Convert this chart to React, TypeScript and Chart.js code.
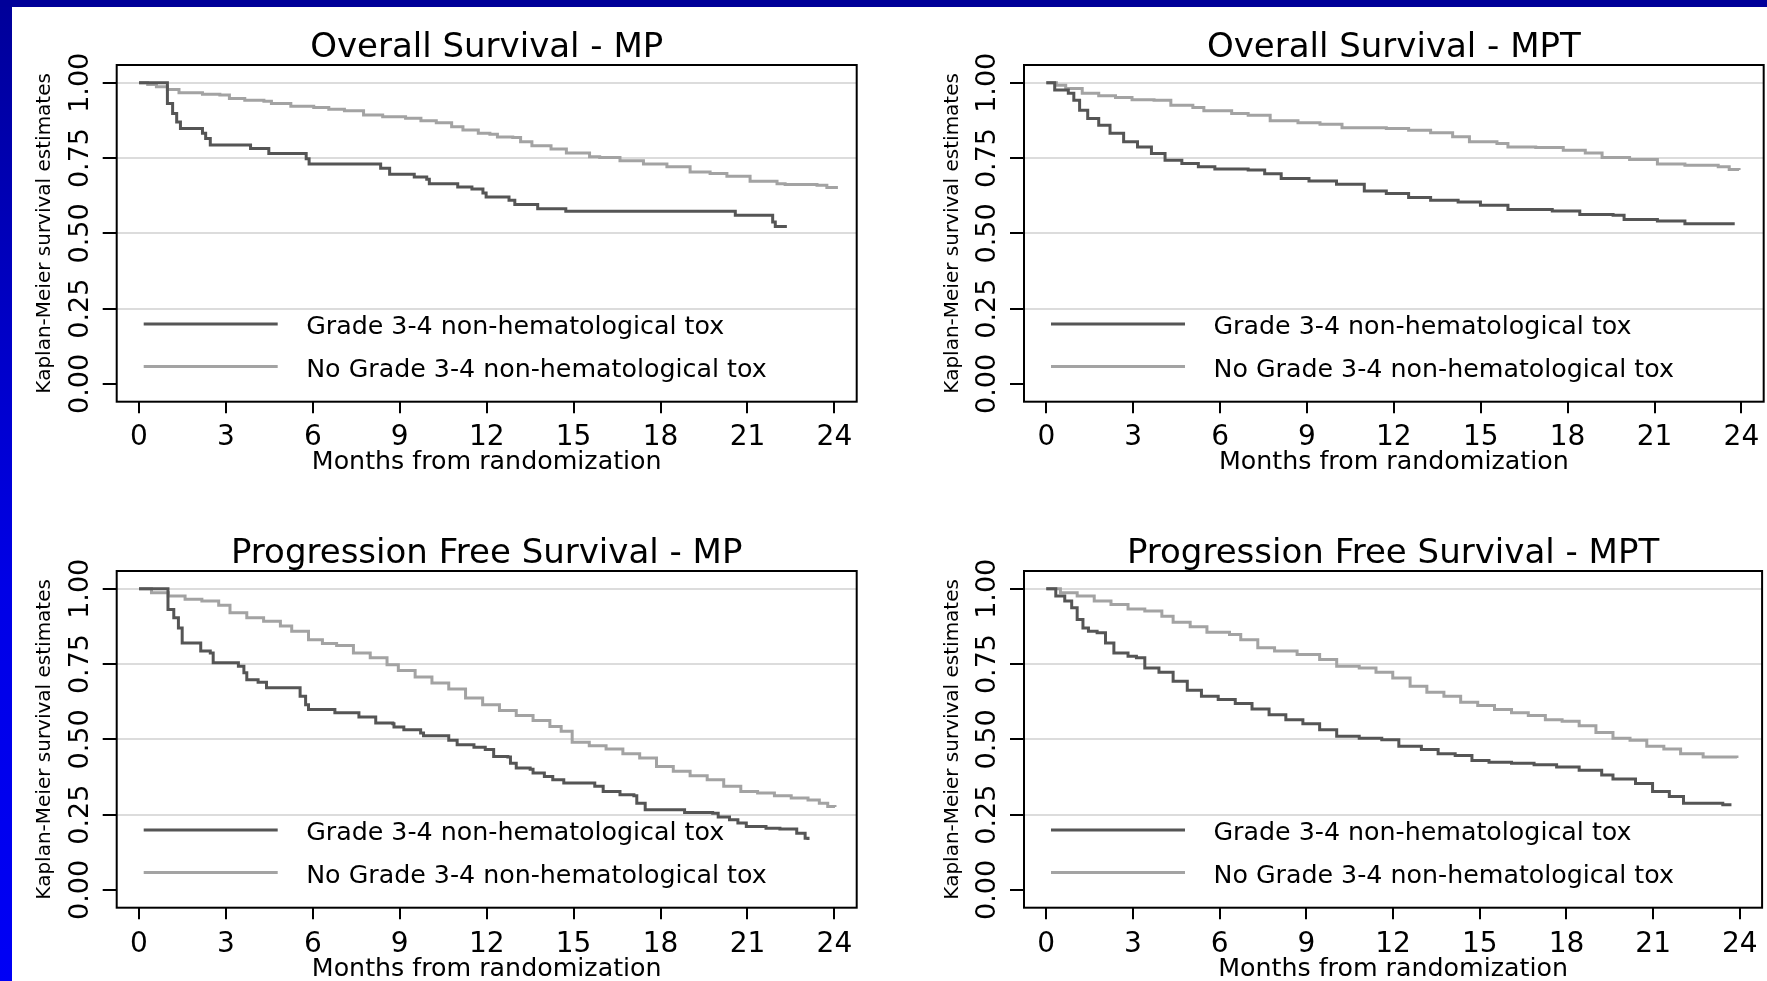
import React, { useEffect, useRef } from 'react';
import { Chart, registerables } from 'chart.js';

Chart.register(...registerables);

// ---------------- text / ticks ----------------
const panelTitles = [
  'Overall Survival - MP',
  'Overall Survival - MPT',
  'Progression Free Survival - MP',
  'Progression Free Survival - MPT',
];
const seriesLabels = ['Grade 3-4 non-hematological tox', 'No Grade 3-4 non-hematological tox'];
const xAxisTitle = 'Months from randomization';
const yAxisTitle = 'Kaplan-Meier survival estimates';
const xTickValues = [0, 3, 6, 9, 12, 15, 18, 21, 24];
const xTickLabels = ['0', '3', '6', '9', '12', '15', '18', '21', '24'];
const yTickValues = [0, 0.25, 0.5, 0.75, 1];
const yTickLabels = ['0.00', '0.25', '0.50', '0.75', '1.00'];

// ---------------- data (months, survival) ----------------
// Overall Survival - MP
const osMpToxT = [0, 0.98, 1.16, 1.3, 1.43, 2.19, 2.3, 2.46, 3.85, 4.48, 5.77, 5.87, 8.34, 8.65, 9.5, 9.93, 10.02, 11.0, 11.49, 11.87, 11.98, 12.77, 12.97, 13.76, 14.73, 20.58, 21.87, 21.96, 22.36];
const osMpToxS = [1, 0.931, 0.898, 0.87, 0.848, 0.832, 0.815, 0.793, 0.782, 0.765, 0.748, 0.73, 0.716, 0.696, 0.687, 0.68, 0.665, 0.654, 0.647, 0.634, 0.621, 0.61, 0.596, 0.582, 0.573, 0.56, 0.538, 0.523, 0.523];
const osMpNoToxT = [0, 0.3, 0.6, 0.98, 1.38, 2.19, 2.79, 3.12, 3.65, 4.31, 4.57, 5.24, 6.03, 6.55, 7.09, 7.75, 8.41, 9.2, 9.73, 10.26, 10.79, 11.18, 11.71, 12.11, 12.37, 12.9, 13.17, 13.56, 14.22, 14.75, 15.55, 15.9, 16.6, 17.41, 18.22, 19.02, 19.71, 20.29, 21.09, 22.02, 22.3, 23.4, 23.74, 24.07];
const osMpNoToxS = [1, 0.994, 0.987, 0.978, 0.967, 0.962, 0.959, 0.948, 0.942, 0.939, 0.931, 0.922, 0.918, 0.912, 0.907, 0.893, 0.887, 0.882, 0.874, 0.867, 0.854, 0.843, 0.832, 0.829, 0.82, 0.818, 0.804, 0.791, 0.78, 0.767, 0.754, 0.752, 0.741, 0.73, 0.721, 0.704, 0.699, 0.69, 0.673, 0.665, 0.662, 0.66, 0.652, 0.647];

// Overall Survival - MPT
const osMptToxT = [0, 0.29, 0.76, 0.95, 1.15, 1.43, 1.81, 2.2, 2.67, 3.15, 3.63, 4.1, 4.68, 5.25, 5.82, 6.97, 7.54, 8.11, 9.07, 10.02, 10.98, 11.74, 12.51, 13.27, 14.22, 14.99, 15.94, 17.47, 18.42, 19.57, 19.95, 21.1, 22.05, 23.77];
const osMptToxS = [1, 0.976, 0.965, 0.942, 0.909, 0.881, 0.859, 0.832, 0.804, 0.787, 0.765, 0.743, 0.732, 0.721, 0.714, 0.71, 0.698, 0.682, 0.674, 0.663, 0.641, 0.632, 0.619, 0.61, 0.604, 0.593, 0.579, 0.574, 0.563, 0.56, 0.546, 0.541, 0.532, 0.532];
const osMptNoToxT = [0, 0.35, 0.67, 1.24, 1.81, 2.39, 2.96, 3.72, 4.3, 5.06, 5.44, 6.4, 6.97, 7.73, 8.69, 9.45, 10.21, 11.74, 12.51, 13.27, 14.03, 14.61, 15.56, 15.94, 16.9, 17.85, 18.61, 19.19, 20.14, 21.1, 22.05, 23.2, 23.58, 23.92];
const osMptNoToxS = [1, 0.992, 0.981, 0.965, 0.957, 0.951, 0.944, 0.942, 0.925, 0.918, 0.907, 0.898, 0.892, 0.874, 0.867, 0.862, 0.851, 0.848, 0.842, 0.834, 0.821, 0.804, 0.798, 0.787, 0.785, 0.776, 0.767, 0.752, 0.745, 0.73, 0.726, 0.721, 0.712, 0.71];

// Progression Free Survival - MP
const pfsMpToxT = [0, 1.0, 1.2, 1.36, 1.49, 2.13, 2.46, 2.56, 3.43, 3.62, 3.72, 4.11, 4.4, 5.56, 5.75, 5.85, 6.76, 7.59, 8.17, 8.76, 8.8, 9.14, 9.72, 9.82, 10.69, 10.98, 11.56, 11.95, 12.24, 12.73, 12.82, 13.02, 13.5, 13.6, 13.99, 14.28, 14.66, 15.73, 16.02, 16.6, 17.08, 17.18, 17.47, 18.83, 19.8, 19.99, 20.38, 20.67, 20.96, 21.64, 22.12, 22.7, 22.99, 23.09];
const pfsMpToxS = [1, 0.931, 0.904, 0.87, 0.82, 0.793, 0.787, 0.754, 0.743, 0.721, 0.698, 0.69, 0.671, 0.643, 0.615, 0.599, 0.588, 0.574, 0.554, 0.552, 0.541, 0.532, 0.521, 0.512, 0.497, 0.482, 0.474, 0.466, 0.443, 0.441, 0.421, 0.405, 0.401, 0.388, 0.377, 0.366, 0.355, 0.344, 0.327, 0.316, 0.313, 0.288, 0.266, 0.257, 0.255, 0.242, 0.233, 0.222, 0.211, 0.205, 0.202, 0.188, 0.172, 0.166];
const pfsMpNoToxT = [0, 0.43, 1.01, 1.59, 2.17, 2.75, 3.14, 3.72, 4.3, 4.88, 5.27, 5.85, 6.33, 6.82, 7.4, 7.98, 8.56, 8.95, 9.53, 10.11, 10.69, 11.27, 11.86, 12.44, 13.02, 13.6, 14.18, 14.57, 14.95, 15.54, 16.12, 16.7, 17.28, 17.86, 18.44, 19.02, 19.61, 20.18, 20.77, 21.35, 21.93, 22.51, 23.09, 23.48, 23.77, 24.02];
const pfsMpNoToxS = [1, 0.987, 0.976, 0.965, 0.959, 0.945, 0.92, 0.904, 0.892, 0.876, 0.859, 0.831, 0.818, 0.812, 0.787, 0.771, 0.748, 0.729, 0.707, 0.687, 0.667, 0.637, 0.615, 0.596, 0.579, 0.563, 0.543, 0.527, 0.49, 0.479, 0.468, 0.452, 0.438, 0.41, 0.394, 0.379, 0.366, 0.344, 0.327, 0.322, 0.313, 0.305, 0.299, 0.288, 0.277, 0.275];

// Progression Free Survival - MPT
const pfsMptToxT = [0, 0.33, 0.64, 0.88, 1.07, 1.27, 1.46, 1.76, 2.05, 2.34, 2.83, 3.12, 3.41, 3.9, 4.39, 4.88, 5.37, 5.95, 6.54, 7.12, 7.71, 8.29, 8.88, 9.46, 10.05, 10.83, 11.61, 12.2, 12.98, 13.56, 14.15, 14.73, 15.32, 16.1, 16.88, 17.66, 18.44, 19.22, 19.61, 20.39, 20.98, 21.56, 22.05, 23.41, 23.71];
const pfsMptToxS = [1, 0.976, 0.959, 0.937, 0.898, 0.87, 0.859, 0.854, 0.82, 0.787, 0.776, 0.771, 0.737, 0.723, 0.693, 0.663, 0.643, 0.632, 0.619, 0.601, 0.582, 0.565, 0.552, 0.532, 0.51, 0.504, 0.499, 0.477, 0.466, 0.452, 0.446, 0.43, 0.424, 0.421, 0.416, 0.408, 0.397, 0.382, 0.368, 0.353, 0.327, 0.31, 0.288, 0.283, 0.283];
const pfsMptNoToxT = [0, 0.49, 1.07, 1.66, 2.24, 2.83, 3.41, 4.0, 4.39, 4.98, 5.56, 6.34, 6.73, 7.32, 7.9, 8.68, 9.46, 10.05, 10.83, 11.41, 11.99, 12.59, 13.17, 13.76, 14.34, 14.93, 15.51, 16.1, 16.68, 17.27, 17.85, 18.44, 19.02, 19.61, 20.2, 20.78, 21.37, 21.95, 22.73, 23.32, 23.9];
const pfsMptNoToxS = [1, 0.987, 0.976, 0.959, 0.948, 0.933, 0.926, 0.909, 0.889, 0.874, 0.856, 0.848, 0.831, 0.804, 0.793, 0.782, 0.765, 0.743, 0.737, 0.723, 0.704, 0.676, 0.656, 0.643, 0.623, 0.612, 0.599, 0.588, 0.579, 0.565, 0.56, 0.545, 0.523, 0.504, 0.497, 0.477, 0.468, 0.452, 0.441, 0.441, 0.438];

// ---------------- styles ----------------
const FONT = "'DejaVu Sans', 'Liberation Sans', Arial, sans-serif";
const darkColor = '#555555';
const lightColor = '#a3a3a3';
const gridColor = '#dcdcdc';
const X_MIN = -0.77;
const X_MAX = 24.77;
const Y_MIN = -0.059;
const Y_MAX = 1.059;

const TITLE_SIZE = 34;
const TITLE_LH = 0.9;
const XTICK_SIZE = 28;
const XTICK_LH = 1.2;
const XTITLE_SIZE = 25.3;
const XTITLE_LH = 0.9;
const YTICK_SIZE = 27;
const YTITLE_SIZE = 20;
const YTITLE_LH = 1.2;
const LEGEND_SIZE = 25.3;
const CURVE_WIDTH = 3;

type PanelSpec = {
  id: string;
  title: string;
  toxT: number[];
  toxS: number[];
  noToxT: number[];
  noToxS: number[];
  canvas: { left: number; top: number; width: number; height: number };
  yAxisW: number;
  padRight: number;
  titleCenter: number; // page y of title centre (canvas-relative computed)
  areaTop: number; // page y of plot frame top
  xAxisH: number;
  xTitleCenter: number;
  xTickCenter: number;
};

const panels: PanelSpec[] = [
  {
    id: 'os-mp', title: panelTitles[0], toxT: osMpToxT, toxS: osMpToxS, noToxT: osMpNoToxT, noToxS: osMpNoToxS,
    canvas: { left: 12, top: 7, width: 868, height: 483 },
    yAxisW: 104.7, padRight: 23.3, titleCenter: 48, areaTop: 65, xAxisH: 88.3, xTitleCenter: 60.5, xTickCenter: 36,
  },
  {
    id: 'os-mpt', title: panelTitles[1], toxT: osMptToxT, toxS: osMptToxS, noToxT: osMptNoToxT, noToxS: osMptNoToxS,
    canvas: { left: 880, top: 7, width: 887, height: 483 },
    yAxisW: 144, padRight: 3, titleCenter: 48, areaTop: 65, xAxisH: 88.3, xTitleCenter: 60.5, xTickCenter: 36,
  },
  {
    id: 'pfs-mp', title: panelTitles[2], toxT: pfsMpToxT, toxS: pfsMpToxS, noToxT: pfsMpNoToxT, noToxS: pfsMpNoToxS,
    canvas: { left: 12, top: 490, width: 868, height: 491 },
    yAxisW: 104.7, padRight: 23.3, titleCenter: 554.5, areaTop: 571, xAxisH: 73.3, xTitleCenter: 61.5, xTickCenter: 37.5,
  },
  {
    id: 'pfs-mpt', title: panelTitles[3], toxT: pfsMptToxT, toxS: pfsMptToxS, noToxT: pfsMptNoToxT, noToxS: pfsMptNoToxS,
    canvas: { left: 880, top: 490, width: 887, height: 491 },
    yAxisW: 144, padRight: 3, titleCenter: 554.5, areaTop: 571, xAxisH: 73.3, xTitleCenter: 61.5, xTickCenter: 37.5,
  },
];

const toPoints = (t: number[], s: number[]) => t.map((x, i) => ({ x, y: s[i] }));

const framePlugin = {
  id: 'frameBox',
  afterDraw(chart: any) {
    const { ctx, chartArea: a } = chart;
    ctx.save();
    ctx.strokeStyle = '#000';
    ctx.lineWidth = 2;
    ctx.strokeRect(a.left, a.top, a.right - a.left, a.bottom - a.top);
    ctx.restore();
  },
};

const insideLegendPlugin = {
  id: 'insideLegend',
  afterDatasetsDraw(chart: any) {
    const { ctx, chartArea: a } = chart;
    const rowOffsets = [262.5, 305];
    chart.data.datasets.forEach((ds: any, i: number) => {
      const y = a.top + rowOffsets[i];
      ctx.save();
      ctx.strokeStyle = ds.borderColor;
      ctx.lineWidth = CURVE_WIDTH;
      ctx.beginPath();
      ctx.moveTo(a.left + 27, y - 3.4);
      ctx.lineTo(a.left + 161, y - 3.4);
      ctx.stroke();
      ctx.fillStyle = '#000';
      ctx.font = `${LEGEND_SIZE}px ${FONT}`;
      ctx.textAlign = 'left';
      ctx.textBaseline = 'middle';
      ctx.fillText(ds.label, a.left + 189.5, y);
      ctx.restore();
    });
  },
};

function buildConfig(p: PanelSpec): any {
  const titleLH = TITLE_SIZE * TITLE_LH;
  const padTop = p.titleCenter - titleLH / 2 - p.canvas.top;
  const titlePadBottom = p.areaTop - p.canvas.top - padTop - titleLH;
  const xTitleLH = XTITLE_SIZE * XTITLE_LH;
  const xTickLH = XTICK_SIZE * XTICK_LH;
  const yTitleLH = YTITLE_SIZE * YTITLE_LH;
  const yTickHalf = (2.227 * YTICK_SIZE) / 2;
  return {
    type: 'line',
    data: {
      datasets: [
        {
          label: seriesLabels[0],
          data: toPoints(p.toxT, p.toxS),
          borderColor: darkColor,
          backgroundColor: darkColor,
          borderWidth: CURVE_WIDTH,
          stepped: 'before',
          pointRadius: 0,
          fill: false,
        },
        {
          label: seriesLabels[1],
          data: toPoints(p.noToxT, p.noToxS),
          borderColor: lightColor,
          backgroundColor: lightColor,
          borderWidth: CURVE_WIDTH,
          stepped: 'before',
          pointRadius: 0,
          fill: false,
        },
      ],
    },
    options: {
      responsive: false,
      maintainAspectRatio: false,
      animation: false,
      events: [],
      layout: { padding: { left: 0, right: p.padRight, top: padTop, bottom: 0 } },
      plugins: {
        legend: { display: false },
        tooltip: { enabled: false },
        title: {
          display: true,
          text: p.title,
          fullSize: false,
          color: '#000',
          font: { family: FONT, size: TITLE_SIZE, weight: 'normal', lineHeight: TITLE_LH },
          padding: { top: 0, bottom: titlePadBottom },
        },
      },
      scales: {
        x: {
          type: 'linear',
          position: 'bottom',
          min: X_MIN,
          max: X_MAX,
          afterBuildTicks: (s: any) => {
            s.ticks = xTickValues.map((v) => ({ value: v }));
          },
          afterFit: (s: any) => {
            s.height = p.xAxisH;
          },
          grid: {
            drawOnChartArea: false,
            drawTicks: true,
            tickLength: 11.5,
            tickColor: '#000',
            tickWidth: 2,
            color: '#000',
            lineWidth: 2,
          },
          border: { display: false },
          ticks: {
            color: '#000',
            font: { family: FONT, size: XTICK_SIZE, lineHeight: XTICK_LH },
            padding: p.xTickCenter - 11.5 - xTickLH / 2,
            minRotation: 0,
            maxRotation: 0,
            autoSkip: false,
            callback: (_v: any, i: number) => xTickLabels[i],
          },
          title: {
            display: true,
            text: xAxisTitle,
            color: '#000',
            font: { family: FONT, size: XTITLE_SIZE, lineHeight: XTITLE_LH },
            padding: { top: 0, bottom: p.xAxisH - p.xTitleCenter - xTitleLH / 2 },
          },
        },
        y: {
          type: 'linear',
          position: 'left',
          min: Y_MIN,
          max: Y_MAX,
          afterBuildTicks: (s: any) => {
            s.ticks = yTickValues.map((v) => ({ value: v }));
          },
          afterFit: (s: any) => {
            s.width = p.yAxisW;
          },
          grid: {
            drawTicks: true,
            tickLength: 14,
            tickColor: '#000',
            tickWidth: 2,
            lineWidth: 2,
            color: (c: any) => (c.tick && c.tick.value === 0 ? 'rgba(0,0,0,0)' : gridColor),
          },
          border: { display: false },
          ticks: {
            color: '#000',
            font: { family: FONT, size: YTICK_SIZE, lineHeight: 1.2 },
            padding: 36 - 14 - yTickHalf,
            minRotation: 90,
            maxRotation: 90,
            crossAlign: 'center',
            autoSkip: false,
            callback: (_v: any, i: number) => yTickLabels[i],
          },
          title: {
            display: true,
            text: yAxisTitle,
            color: '#000',
            font: { family: FONT, size: YTITLE_SIZE, lineHeight: YTITLE_LH },
            padding: { top: p.yAxisW - 71.5 - yTitleLH / 2, bottom: 0 },
          },
        },
      },
    },
    plugins: [framePlugin, insideLegendPlugin],
  };
}

function Panel({ spec }: { spec: PanelSpec }) {
  const ref = useRef<HTMLCanvasElement | null>(null);
  useEffect(() => {
    if (!ref.current) return;
    const chart = new Chart(ref.current, buildConfig(spec));
    return () => chart.destroy();
  }, [spec]);
  const c = spec.canvas;
  return (
    <canvas
      ref={ref}
      width={c.width}
      height={c.height}
      style={{ position: 'absolute', left: c.left, top: c.top, width: c.width, height: c.height }}
    />
  );
}

export default function App() {
  return (
    <div
      style={{
        position: 'fixed',
        left: 0,
        top: 0,
        width: 1767,
        height: 981,
        background: '#ffffff',
        overflow: 'hidden',
      }}
    >
      <div
        style={{
          position: 'absolute',
          left: 0,
          top: 0,
          width: 12,
          height: 981,
          background: 'linear-gradient(to bottom, #000099 0%, #0000c8 35%, #0000e6 60%, #0000f5 100%)',
        }}
      />
      <div style={{ position: 'absolute', left: 0, top: 0, width: 1767, height: 7, background: '#000099' }} />
      {panels.map((p) => (
        <Panel key={p.id} spec={p} />
      ))}
    </div>
  );
}
